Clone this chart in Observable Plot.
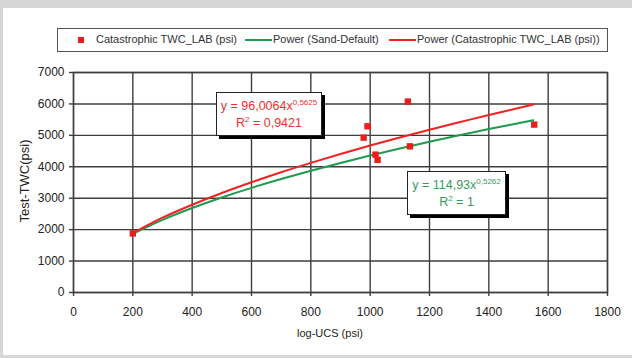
<!DOCTYPE html>
<html>
<head>
<meta charset="utf-8">
<script src="https://cdn.jsdelivr.net/npm/d3@7"></script>
<script src="https://cdn.jsdelivr.net/npm/@observablehq/plot@0.6"></script>
<style>
  html, body { margin: 0; padding: 0; }
  body { width: 632px; height: 358px; overflow: hidden; font-family: "Liberation Sans", Arial, sans-serif; }
  #wrap { position: relative; width: 632px; height: 358px; background: #d6d6d6; }
  #panel { position: absolute; left: 3px; top: 8px; width: 629px; height: 347px; background: #fff; }
  #chart { position: absolute; left: 0; top: 0; }
  .abs { position: absolute; }
  #legend { position: absolute; left: 57px; top: 28px; width: 549px; height: 22px; border: 1px solid #555; background: #fff; font-size: 11px; color: #333; }
  #legend .t { position: absolute; top: 4px; white-space: nowrap; }
  .eq { position: absolute; background: #fff; border: 1px solid #222; box-shadow: 3px 3px 0 #000; text-align: center; font-size: 12.5px; line-height: 17px; padding-top: 5px; box-sizing: border-box; }
  .eq sup { font-size: 8px; vertical-align: 5px; line-height: 0; }
  .axlab { position: absolute; color: #222; white-space: nowrap; }
</style>
</head>
<body>
<div id="wrap">
  <div id="panel"></div>
  <div id="chart"></div>
</div>
<script>
// ---- data ----
const catX = [200, 978, 991, 1018, 1025, 1127, 1134, 1553];
const catY = [1880, 4928, 5288, 4387, 4220, 6075, 4651, 5342];

const trendX = [200, 300, 400, 500, 600, 700, 800, 900, 1000, 1100, 1200, 1300, 1400, 1550];
const redTrendY = [1890, 2380, 2792, 3165, 3507, 3826, 4124, 4407, 4676, 4932, 5179, 5417, 5648, 5981];
const greenTrendY = [1868, 2311, 2689, 3025, 3330, 3610, 3873, 4121, 4357, 4581, 4796, 5002, 5201, 5484];

const xTicks = [0, 200, 400, 600, 800, 1000, 1200, 1400, 1600, 1800];
const yTicks = [0, 1000, 2000, 3000, 4000, 5000, 6000, 7000];

const seriesNames = ["Catastrophic TWC_LAB (psi)", "Power (Sand-Default)", "Power (Catastrophic TWC_LAB (psi))"];
const redEq = ["y = 96,0064x", "0,5625", "R", "2", " = 0,9421"];
const greenEq = ["y = 114,93x", "0,5262", "R", "2", " = 1"];
const xLabel = "log-UCS (psi)";
const yLabel = "Test-TWC(psi)";

// ---- build ----
const RED = "#f22222";
const GREEN = "#1f9a4e";
const GRID = "#3e3e3e";
const pts = catX.map((x, i) => ({x, y: catY[i]}));
const red = trendX.map((x, i) => ({x, y: redTrendY[i]}));
const green = trendX.map((x, i) => ({x, y: greenTrendY[i]}));

const plot = Plot.plot({
  width: 632,
  height: 358,
  marginLeft: 73,
  marginRight: 25,
  marginTop: 72,
  marginBottom: 66,
  style: {background: "transparent", fontFamily: "'Liberation Sans', Arial, sans-serif", fontSize: "12px", color: "#222"},
  x: {domain: [0, 1800]},
  y: {domain: [0, 7000]},
  marks: [
    Plot.gridX(xTicks, {stroke: GRID, strokeOpacity: 1, strokeWidth: 1.4}),
    Plot.gridY(yTicks, {stroke: GRID, strokeOpacity: 1, strokeWidth: 1.4}),
    Plot.frame({stroke: GRID, strokeWidth: 1.4}),
    Plot.axisX(xTicks, {tickSize: 4, tickPadding: 11, tickFormat: d => String(d), label: null, stroke: GRID, strokeWidth: 1.4, fill: "#222"}),
    Plot.axisY(yTicks, {tickSize: 4, tickPadding: 5, tickFormat: d => String(d), label: null, stroke: GRID, strokeWidth: 1.4, fill: "#222"}),
    Plot.line(green, {x: "x", y: "y", stroke: GREEN, strokeWidth: 2, curve: "catmull-rom"}),
    Plot.line(red, {x: "x", y: "y", stroke: RED, strokeWidth: 2, curve: "catmull-rom"}),
    Plot.dot(pts, {x: "x", y: "y", symbol: "square", r: 3.6, fill: "#ee1c1c", stroke: "none"})
  ]
});
document.getElementById("chart").appendChild(plot);

const wrap = document.getElementById("wrap");

// legend
const lg = document.createElement("div");
lg.id = "legend";
lg.innerHTML =
  `<div class="abs" style="left:20px;top:8px;width:6px;height:6px;background:#ee1c1c"></div>` +
  `<div class="t" style="left:38px">${seriesNames[0]}</div>` +
  `<div class="abs" style="left:187px;top:10px;width:27px;height:2px;background:${GREEN}"></div>` +
  `<div class="t" style="left:215px">${seriesNames[1]}</div>` +
  `<div class="abs" style="left:331px;top:10px;width:27px;height:2px;background:${RED}"></div>` +
  `<div class="t" style="left:359px">${seriesNames[2]}</div>`;
wrap.appendChild(lg);

// equation boxes
function eqBox(parts, color, left, top, w, h) {
  const d = document.createElement("div");
  d.className = "eq";
  d.style.left = left + "px"; d.style.top = top + "px";
  d.style.width = w + "px"; d.style.height = h + "px";
  d.style.color = color;
  d.innerHTML = `${parts[0]}<sup>${parts[1]}</sup><br>${parts[2]}<sup>${parts[3]}</sup>${parts[4]}`;
  wrap.appendChild(d);
}
eqBox(redEq, "#f03030", 216, 92, 106, 44);
eqBox(greenEq, "#3a9a5e", 407, 171, 99, 44);

// axis titles
const xl = document.createElement("div");
xl.className = "axlab";
xl.textContent = xLabel;
xl.style.fontSize = "11px";
xl.style.left = "330px"; xl.style.top = "333px";
xl.style.transform = "translate(-50%, -50%)";
wrap.appendChild(xl);

const yl = document.createElement("div");
yl.className = "axlab";
yl.textContent = yLabel;
yl.style.fontSize = "13px";
yl.style.left = "24px"; yl.style.top = "181px";
yl.style.transform = "translate(-50%, -50%) rotate(-90deg)";
wrap.appendChild(yl);
</script>
</body>
</html>
